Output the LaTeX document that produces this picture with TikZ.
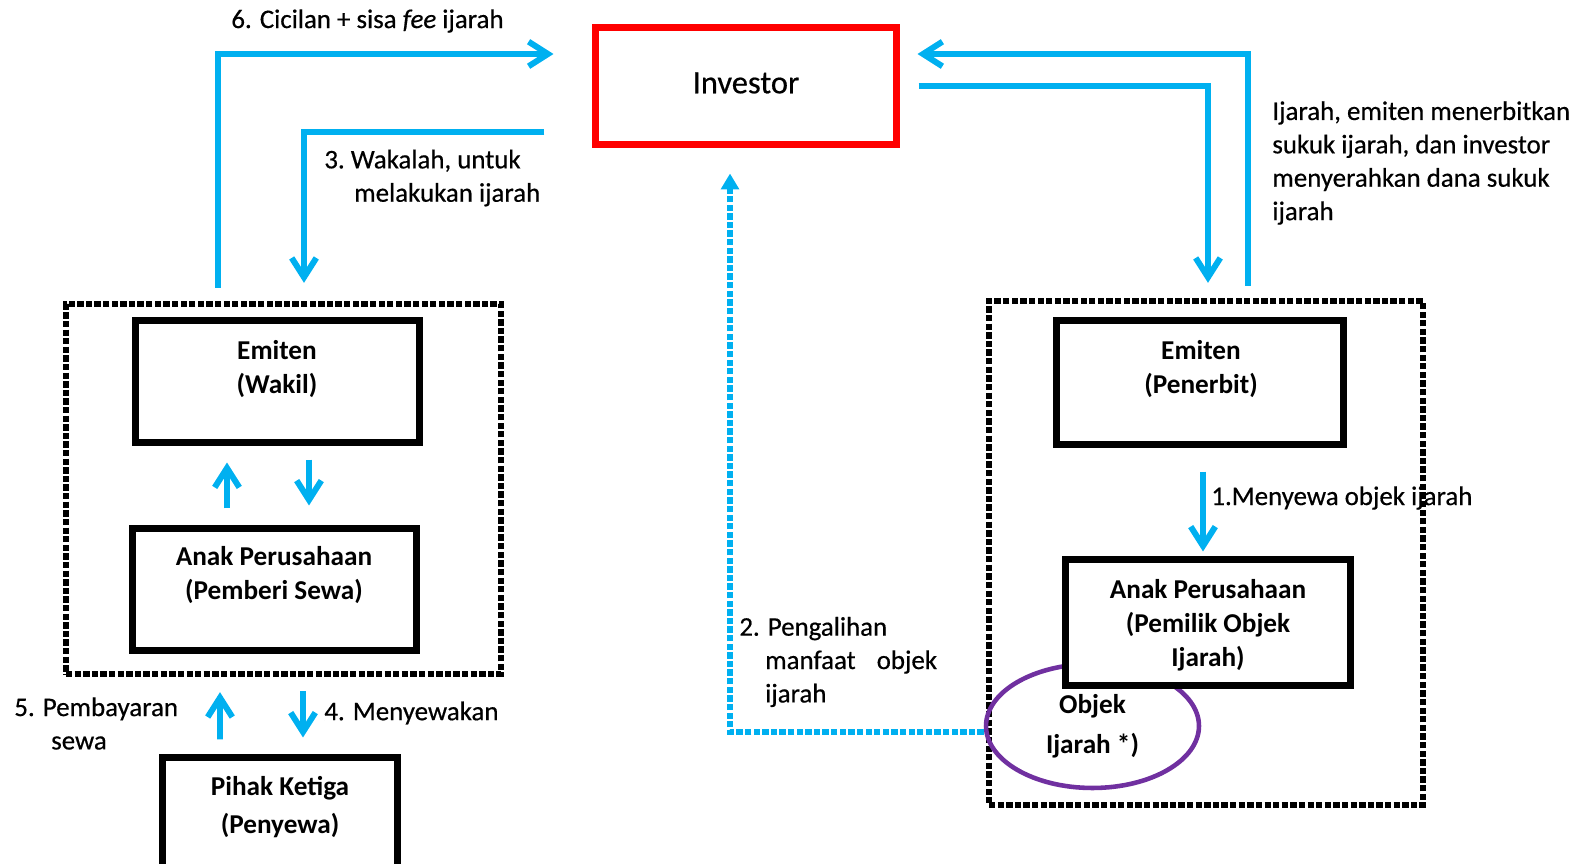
\documentclass[tikz,border=0pt]{standalone}
\usepackage{fontspec}
\setmainfont{Carlito}
\newfontfamily\lblfont{Carlito}[FakeBold=0.5]
\usetikzlibrary{arrows.meta,calc,fit,shapes.geometric}
\definecolor{flowblue}{HTML}{00B0F0}
\definecolor{invred}{HTML}{FF0000}
\definecolor{objpurple}{HTML}{7030A0}
\begin{document}
\begin{tikzpicture}[x=0.02cm,y=-0.02cm,
  blkbox/.style={draw=black,line width=4pt,fill=white,inner sep=0pt,rectangle},
  grpbox/.style={draw=black,line width=3.6pt,dash pattern=on 3.6pt off 1.3pt,inner sep=0pt,rectangle},
  boxtxt/.style={font=\bfseries\fontsize{15.5}{19.3}\selectfont,align=center,inner sep=0pt},
  lbl/.style={font=\lblfont\fontsize{15.3}{19}\selectfont,align=left,inner sep=0pt,anchor=west},
  flow/.style={draw=flowblue,line width=3.4pt,-{Straight Barb[length=11pt,width=14pt]}},
  dotflow/.style={draw=flowblue,line width=3pt,dash pattern=on 3.6pt off 1.3pt,-{Triangle[length=9pt,width=10pt]}},
]
\useasboundingbox (0,0) rectangle (1589,864);
\clip (0,0) rectangle (1589,864);

% group frames
\node[grpbox, fit={(66,304) (501,674)}] (lbox) {};
\node[grpbox, fit={(989,301) (1423,805)}] (rbox) {};

% investor
\node[draw=invred, line width=4pt, inner sep=0pt, fit={(595.5,27.5) (896.5,144.5)}] (inv) {};
\node[font=\lblfont\fontsize{18.5}{22}\selectfont, inner sep=0pt] (invt) at (746,83) {Investor};

% object of the lease
\node[ellipse, draw=objpurple, line width=2.6pt, minimum width=4.26cm, minimum height=2.48cm,
      inner sep=0pt, align=center, font=\bfseries\fontsize{15.5}{23}\selectfont]
      (obj) at (1092.5,726) {Objek\\Ijarah *)};

% parties
\node[blkbox, fit={(135.5,320.5) (419.5,442.5)}] (emw) {};
\node[blkbox, fit={(132.5,528.5) (416.5,650.5)}] (aps) {};
\node[blkbox, fit={(162.5,757.5) (397.5,900)}] (pk) {};
\node[blkbox, fit={(1056.5,320.5) (1343.5,444.5)}] (emp) {};
\node[blkbox, fit={(1065.5,559.5) (1350.5,685.5)}] (apo) {};

\node[boxtxt] (emwt) at (277,369) {Emiten\\(Wakil)};
\node[boxtxt] (apst) at (274,575) {Anak Perusahaan\\(Pemberi Sewa)};
\node[boxtxt, font=\bfseries\fontsize{15.5}{21.5}\selectfont] (pkt) at (280,807) {Pihak Ketiga\\(Penyewa)};
\node[boxtxt] (empt) at (1201,369) {Emiten\\(Penerbit)};
\node[boxtxt] (apot) at (1208,625) {Anak Perusahaan\\(Pemilik Objek\\Ijarah)};

% step labels
\node[lbl] (l6) at (231,21) {6. Cicilan + sisa \textit{fee} ijarah};
\node[lbl] (l3) at (324,178) {3.~Wakalah, untuk\\\hspace*{17pt}melakukan ijarah};
\node[lbl] (lr) at (1272,163) {Ijarah, emiten menerbitkan\\sukuk ijarah, dan investor\\menyerahkan dana sukuk\\ijarah};
\node[lbl] (l1) at (1211,498) {1.Menyewa objek ijarah};
\node[lbl] (l2) at (739,662) {2. Pengalihan\\\hspace*{14.7pt}manfaat\hspace{12pt}objek\\\hspace*{14.7pt}ijarah};
\node[lbl] (l5) at (14,723.5) {5. Pembayaran\\\hspace*{21pt}sewa};
\node[lbl] (l4) at (324,713) {4. Menyewakan};

% flows with the investor
\draw[flow] ($(lbox.north)+(-65.5,-13)$) |- ($(inv.west)+(-38.5,-32)$);
\draw[flow] ($(inv.west)+(-47.5,46)$) -| ($(lbox.north)+(20.5,-18)$);
\draw[flow] ($(rbox.north)+(42,-12)$) |- ($(inv.east)+(17.5,-32)$);
\draw[flow] ($(inv.east)+(18.5,0)$) -| ($(rbox.north)+(2,-15)$);

% flows inside the left group
\draw[flow] ($(aps.north)+(-47.5,-16.5)$) -- ($(emw.south)+(-50.5,16.5)$);
\draw[flow] ($(emw.south)+(31.5,13.5)$) -- ($(aps.north)+(34.5,-19.5)$);

% flows with the lessee
\draw[flow] ($(pk.north)+(-60,-14.5)$) -- ($(lbox.south)+(-63.5,15)$);
\draw[flow] ($(lbox.south)+(19.5,14)$) -- ($(pk.north)+(23,-16.5)$);

% flow inside the right group
\draw[flow] ($(emp.south)+(3,23.5)$) -- ($(apo.north)+(-5,-4.5)$);

% transfer of the benefit
\draw[dotflow] ($(obj.west)+(0,6)$) -| ($(inv.south)+(-16,25.5)$);
\end{tikzpicture}
\end{document}
